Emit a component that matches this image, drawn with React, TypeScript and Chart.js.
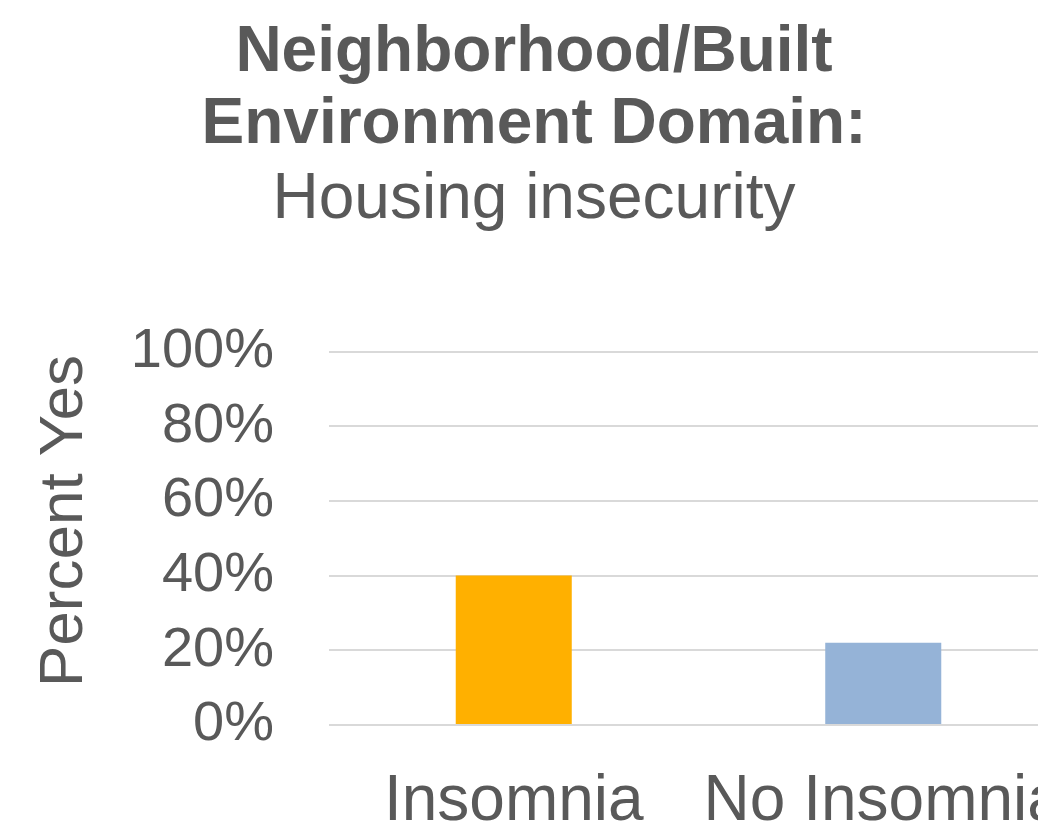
import React, { useEffect, useRef } from "react";
import { Chart, registerables } from "chart.js";

Chart.register(...registerables);

const categories: string[] = ["Insomnia", "No Insomnia"];
const percentYes: number[] = [40, 22];
const barColors: string[] = ["#FFB000", "#95B3D7"];
const yTicks: number[] = [0, 20, 40, 60, 80, 100];
const titleLines: string[] = ["Neighborhood/Built", "Environment Domain:"];
const subtitleText = "Housing insecurity";
// leading spaces nudge the rotated axis title slightly upward
const yAxisTitle = "  Percent Yes";

const FONT = "'Liberation Sans', Arial, Helvetica, sans-serif";
const TEXT = "#595959";

export default function App() {
  const canvasRef = useRef<HTMLCanvasElement | null>(null);

  useEffect(() => {
    if (!canvasRef.current) return;
    const chart = new Chart(canvasRef.current, {
      type: "bar",
      data: {
        labels: categories,
        datasets: [
          {
            data: percentYes,
            backgroundColor: barColors,
            borderWidth: 0,
            categoryPercentage: 1,
            barPercentage: 0.314,
          },
        ],
      },
      options: {
        responsive: false,
        animation: false,
        layout: { padding: { left: 0, right: 12, top: 0, bottom: 0 } },
        plugins: {
          legend: { display: false },
          tooltip: { enabled: false },
          title: {
            display: true,
            text: titleLines,
            color: TEXT,
            font: { family: FONT, size: 64, weight: "bold", lineHeight: 1.133 },
            padding: { top: 17, bottom: 0 },
          },
          subtitle: {
            display: true,
            text: subtitleText,
            color: TEXT,
            font: { family: FONT, size: 64, weight: "normal", lineHeight: 1.133 },
            padding: { top: 2, bottom: 115 },
          },
        },
        scales: {
          x: {
            grid: { display: false },
            border: { display: false },
            ticks: {
              color: TEXT,
              font: { family: FONT, size: 64, lineHeight: 1 },
              padding: 37,
              maxRotation: 0,
              autoSkip: false,
            },
            afterFit: (scale: any) => {
              scale.paddingLeft = 0;
              scale.paddingRight = 0;
              scale.height = 111;
            },
          },
          y: {
            min: 0,
            max: 100,
            afterBuildTicks: (axis: any) => {
              axis.ticks = yTicks.map((v) => ({ value: v }));
            },
            afterFit: (scale: any) => {
              scale.width = 329;
            },
            grid: { color: "#D9D9D9", lineWidth: 2, drawTicks: false },
            border: { display: false },
            ticks: {
              color: TEXT,
              font: { family: FONT, size: 56 },
              padding: 55,
              autoSkip: false,
              callback: (v: any) => `${v}%`,
            },
            title: {
              display: true,
              text: yAxisTitle,
              color: TEXT,
              font: { family: FONT, size: 62 },
              padding: { top: 28, bottom: 30 },
            },
          },
        },
      },
    });
    return () => chart.destroy();
  }, []);

  return (
    <div
      style={{
        position: "absolute",
        left: 0,
        top: 0,
        width: 1038,
        height: 836,
        overflow: "hidden",
        background: "#ffffff",
      }}
    >
      <canvas ref={canvasRef} width={1080} height={836} style={{ display: "block" }} />
    </div>
  );
}
